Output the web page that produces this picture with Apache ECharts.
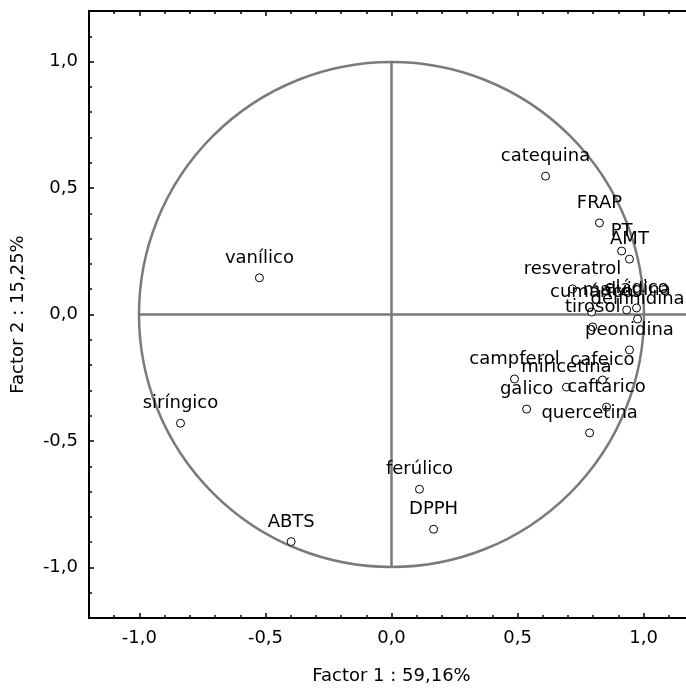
<!DOCTYPE html>
<html>
<head>
<meta charset="utf-8">
<script src="https://cdn.jsdelivr.net/npm/echarts@6/dist/echarts.min.js"></script>
<style>html,body{margin:0;padding:0;background:#fff;}#c{width:686px;height:689px;}</style>
</head>
<body>
<div id="c"></div>
<script>
const names = ['catequina','FRAP','PT','AMT','resveratrol','cumárico','malvidina','elágico','delfinidina','tirosol','peonidina','cafeico','campferol','miricetina','galico','caftárico','quercetina','vanílico','siríngico','ferúlico','DPPH','ABTS'];
const factor1 = [0.611,0.825,0.913,0.944,0.718,0.794,0.933,0.972,0.976,0.798,0.944,0.837,0.488,0.694,0.536,0.853,0.786,-0.524,-0.837,0.111,0.167,-0.398];
const factor2 = [0.547,0.362,0.251,0.219,0.101,0.010,0.018,0.026,-0.018,-0.049,-0.140,-0.259,-0.255,-0.287,-0.374,-0.366,-0.468,0.145,-0.430,-0.691,-0.849,-0.898];
const majorTicks = [-1,-0.5,0,0.5,1];
const minorTicks = [-1.1,-0.9,-0.8,-0.7,-0.6,-0.4,-0.3,-0.2,-0.1,0.1,0.2,0.3,0.4,0.6,0.7,0.8,0.9,1.1];
const axisMin = -1.2, axisMax = 1.2;
const circleRadius = 1;
const hLine = [-1, 1.2];
const vLine = [-1, 1];

const FONT = 'DejaVu Sans';
const fmt = v => (Math.round(v*10)/10).toFixed(1).replace('.', ',');

function mkAxis(kind, pos, opts) {
  return Object.assign({
    type: 'value', min: axisMin, max: axisMax, position: pos,
    splitLine: {show: false},
    axisLine: {show: true, onZero: false, lineStyle: {color: '#000', width: 2}},
  }, opts);
}
const majorTick = {show: true, inside: true, length: 5, customValues: majorTicks, lineStyle: {color: '#000', width: 1.5}};
const minorTick = {show: true, inside: true, length: 3, customValues: minorTicks, lineStyle: {color: '#000', width: 1.5}};
const labelStyle = {show: true, customValues: majorTicks, formatter: fmt, color: '#000', fontFamily: FONT, fontSize: 18, margin: 11};

const chart = echarts.init(document.getElementById('c'), null, {renderer: 'canvas'});
chart.setOption({
  backgroundColor: '#fff',
  animation: false,
  grid: {left: 89, top: 11, width: 605, height: 607, containLabel: false, outerBoundsMode: 'none'},
  xAxis: [
    mkAxis('x','bottom',{axisTick: majorTick, axisLabel: labelStyle,
      name: 'Factor 1 : 59,16%', nameLocation: 'middle', nameGap: 49,
      nameTextStyle: {color: '#000', fontFamily: FONT, fontSize: 18}}),
    mkAxis('x','bottom',{axisTick: minorTick, axisLabel: {show: false}}),
    mkAxis('x','top',{axisTick: majorTick, axisLabel: {show: false}}),
    mkAxis('x','top',{axisTick: minorTick, axisLabel: {show: false}})
  ],
  yAxis: [
    mkAxis('y','left',{axisTick: majorTick, axisLabel: labelStyle,
      name: 'Factor 2 : 15,25%', nameLocation: 'middle', nameGap: 62,
      nameTextStyle: {color: '#000', fontFamily: FONT, fontSize: 18}}),
    mkAxis('y','left',{axisTick: minorTick, axisLabel: {show: false}}),
    mkAxis('y','right',{axisTick: majorTick, axisLabel: {show: false}}),
    mkAxis('y','right',{axisTick: minorTick, axisLabel: {show: false}})
  ],
  series: [
    {
      type: 'custom', xAxisIndex: 0, yAxisIndex: 0, z: 1, silent: true,
      data: [[0, 0]],
      renderItem: function (params, api) {
        const c = api.coord([0, 0]);
        const rx = api.coord([circleRadius, 0])[0] - c[0];
        const ry = c[1] - api.coord([0, circleRadius])[1];
        const r = (rx + ry) / 2;
        const h1 = api.coord([hLine[0], 0]), h2 = api.coord([hLine[1], 0]);
        const v1 = api.coord([0, vLine[0]]), v2 = api.coord([0, vLine[1]]);
        const st = {stroke: '#7a7a7a', lineWidth: 2.5, fill: null};
        return {
          type: 'group',
          children: [
            {type: 'circle', shape: {cx: c[0], cy: c[1], r: r}, style: st},
            {type: 'line', shape: {x1: h1[0], y1: h1[1], x2: h2[0], y2: h2[1]}, style: st},
            {type: 'line', shape: {x1: v1[0], y1: v1[1], x2: v2[0], y2: v2[1]}, style: st}
          ]
        };
      }
    },
    {
      type: 'scatter', xAxisIndex: 0, yAxisIndex: 0, z: 3,
      symbol: 'circle', symbolSize: 8,
      itemStyle: {color: '#fff', borderColor: '#000', borderWidth: 1, opacity: 1},
      label: {show: true, position: 'top', distance: 6, formatter: '{b}',
        color: '#000', fontFamily: FONT, fontSize: 18},
      data: names.map((n, i) => ({name: n, value: [factor1[i], factor2[i]]}))
    }
  ]
});
</script>
</body>
</html>
